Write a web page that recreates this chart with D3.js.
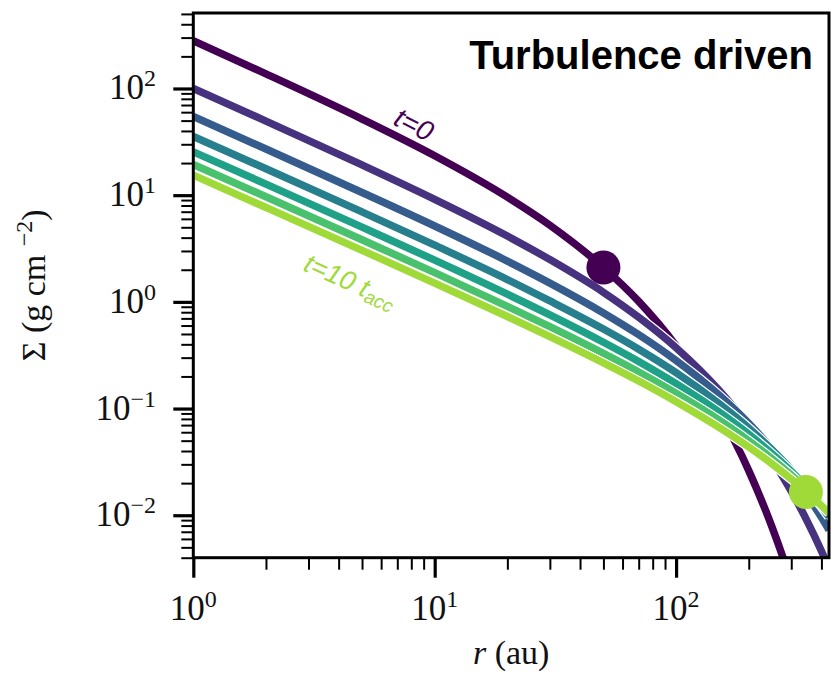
<!DOCTYPE html>
<html><head><meta charset="utf-8">
<script src="https://cdn.jsdelivr.net/npm/d3@7"></script>
<style>body{margin:0;background:#fff} svg{display:block}</style>
</head><body>
<svg id="chart" width="831" height="677"></svg>
<script>
// ---- data ----
const radii   = [1, 2, 5, 10, 20, 30, 50, 70, 100, 150, 200, 250, 300, 350, 400, 430];
const sigmaT0 = [280, 137, 51.7, 23.4, 9.58, 5.23, 2.10, 1.01, 0.387, 0.0948, 0.0262, 0.0077, 0.00236, 0.00074, 0.00024, 0.00012];
const sigmaT1 = [100, 49.5, 19.2, 9.14, 4.14, 2.49, 1.23, 0.717, 0.372, 0.150, 0.0684, 0.0332, 0.0168, 0.00872, 0.00463, 0.00319];
const sigmaT2 = [54.6, 27.1, 10.6, 5.14, 2.41, 1.50, 0.788, 0.493, 0.282, 0.135, 0.0725, 0.0415, 0.0248, 0.0152, 0.00955, 0.00727];
const sigmaT3 = [35.5, 17.7, 6.97, 3.40, 1.62, 1.02, 0.556, 0.360, 0.217, 0.112, 0.0657, 0.0409, 0.0266, 0.0177, 0.0121, 0.00967];
const sigmaT4 = [25.5, 12.7, 5.01, 2.46, 1.18, 0.755, 0.418, 0.276, 0.171, 0.0935, 0.0574, 0.0376, 0.0257, 0.0180, 0.0129, 0.0106];
const sigmaT5 = [19.4, 9.66, 3.82, 1.88, 0.909, 0.586, 0.329, 0.220, 0.139, 0.0786, 0.0499, 0.0338, 0.0238, 0.0173, 0.0128, 0.0108];
const sigmaT6 = [15.4, 7.67, 3.04, 1.50, 0.729, 0.472, 0.268, 0.181, 0.116, 0.0670, 0.0436, 0.0302, 0.0218, 0.0162, 0.0123, 0.0105];
const seriesList = [sigmaT0, sigmaT1, sigmaT2, sigmaT3, sigmaT4, sigmaT5, sigmaT6];
const dotR     = [50, 345];
const dotSigma = [2.10, 0.0165];
const xMajorTicks = [1, 10, 100];
const yMajorTicks = [0.01, 0.1, 1, 10, 100];
const xTickExps = [0, 1, 2];
const yTickExps = [-2, -1, 0, 1, 2];
const titleText = "Turbulence driven";
const xLabel = "(au)";
const yLabel = "Σ (g cm";

// ---- layout ----
const L = 193.3, R = 829, T = 13, B = 557.7;
const svg = d3.select("#chart");
const x = d3.scaleLog().domain([1, 430]).range([L, R]);
const y = d3.scaleLog().domain([0.004, 510]).range([B, T]);
const colors = seriesList.map((s, i) => d3.interpolateViridis(i / 7));

function minorTicks(scale, majors) {
  const [lo, hi] = scale.domain();
  const out = [];
  [0.001, ...majors].forEach(d => { for (let m = 2; m <= 9; m++) { const v = d * m; if (v >= lo * 0.999 && v <= hi) out.push(v); } });
  return out;
}

svg.append("defs").append("clipPath").attr("id", "clip")
  .append("rect").attr("x", L).attr("y", T).attr("width", R - L).attr("height", B - T);

// ---- curves ----
const line = d3.line().x(d => x(d[0])).y(d => y(d[1])).curve(d3.curveMonotoneX);
const gPlot = svg.append("g").attr("clip-path", "url(#clip)");
seriesList.forEach((s, i) => {
  const pts = radii.map((r, j) => [r, s[j]]);
  gPlot.append("path").attr("d", line(pts)).attr("fill", "none")
    .attr("stroke", "#fff").attr("stroke-width", 10).attr("stroke-linejoin", "round");
  gPlot.append("path").attr("d", line(pts)).attr("fill", "none")
    .attr("stroke", colors[i]).attr("stroke-width", 7.5).attr("stroke-linejoin", "round");
});
gPlot.selectAll("circle.dot").data(dotR).join("circle").attr("class", "dot")
  .attr("cx", d => x(d)).attr("cy", (d, i) => y(dotSigma[i])).attr("r", 17)
  .attr("fill", (d, i) => i === 0 ? colors[0] : colors[colors.length - 1]);

// ---- axes ----
function styleAxis(g, w) {
  g.select(".domain").remove();
  g.selectAll(".tick line").attr("stroke", "#000").attr("stroke-width", w);
  g.selectAll(".tick text").remove();
}
svg.append("g").attr("transform", `translate(0,${B})`)
  .call(d3.axisBottom(x).tickValues(minorTicks(x, xMajorTicks)).tickSize(12).tickFormat(""))
  .call(g => styleAxis(g, 2));
svg.append("g").attr("transform", `translate(0,${B})`)
  .call(d3.axisBottom(x).tickValues(xMajorTicks).tickSize(20).tickFormat(""))
  .call(g => styleAxis(g, 3.2));
svg.append("g").attr("transform", `translate(${L},0)`)
  .call(d3.axisLeft(y).tickValues(minorTicks(y, yMajorTicks)).tickSize(12).tickFormat(""))
  .call(g => styleAxis(g, 2));
svg.append("g").attr("transform", `translate(${L},0)`)
  .call(d3.axisLeft(y).tickValues(yMajorTicks).tickSize(20).tickFormat(""))
  .call(g => styleAxis(g, 3.2));

svg.append("rect").attr("x", L).attr("y", T).attr("width", R - L).attr("height", B - T)
  .attr("fill", "none").attr("stroke", "#000").attr("stroke-width", 3);

const serif = "'Liberation Serif', 'DejaVu Serif', serif";
function powText(sel, e) {
  sel.append("tspan").text("10");
  sel.append("tspan").attr("dy", -13).attr("font-size", 24).text(e < 0 ? "\u2212" + (-e) : String(e));
}
xMajorTicks.forEach((v, i) => {
  svg.append("text").attr("x", x(v)).attr("y", 620).attr("text-anchor", "middle")
    .attr("font-family", serif).attr("font-size", 35).attr("fill", "#111")
    .call(s => powText(s, xTickExps[i]));
});
yMajorTicks.forEach((v, i) => {
  svg.append("text").attr("x", 156).attr("y", y(v) + 11).attr("text-anchor", "end")
    .attr("font-family", serif).attr("font-size", 35).attr("fill", "#111")
    .call(s => powText(s, yTickExps[i]));
});

// axis labels
const xl = svg.append("text").attr("x", (L + R) / 2).attr("y", 664).attr("text-anchor", "middle")
  .attr("font-family", serif).attr("font-size", 34).attr("fill", "#111");
xl.append("tspan").attr("font-style", "italic").text("r");
xl.append("tspan").text(" " + xLabel);

const yl = svg.append("text").attr("transform", `translate(45,${(T + B) / 2}) rotate(-90)`)
  .attr("text-anchor", "middle").attr("font-family", serif).attr("font-size", 34).attr("fill", "#111");
yl.append("tspan").text(yLabel + " ");
yl.append("tspan").attr("dy", -13).attr("font-size", 24).text("\u22122");
yl.append("tspan").attr("dy", 13).text(")");

// title
svg.append("text").attr("x", 813).attr("y", 69).attr("text-anchor", "end")
  .attr("font-family", "'Liberation Sans', Arial, sans-serif").attr("font-weight", "bold")
  .attr("font-size", 40).attr("fill", "#000").text(titleText);

// curve annotations
const sans = "'Liberation Sans', Arial, sans-serif";
svg.append("text").attr("transform", `translate(${x(8.2)},${y(46)}) rotate(27)`)
  .attr("text-anchor", "middle").attr("dominant-baseline", "central")
  .attr("font-family", sans).attr("font-style", "italic").attr("font-size", 28)
  .attr("fill", colors[0]).text("t=0");
const lab = svg.append("text").attr("transform", `translate(${x(4.47)},${y(1.55)}) rotate(24)`)
  .attr("text-anchor", "middle").attr("dominant-baseline", "central")
  .attr("font-family", sans).attr("font-style", "italic").attr("font-size", 27)
  .attr("fill", colors[colors.length - 1]);
lab.append("tspan").text("t=10 t");
lab.append("tspan").attr("font-size", 19).attr("dy", 6).text("acc");
</script>
</body></html>
